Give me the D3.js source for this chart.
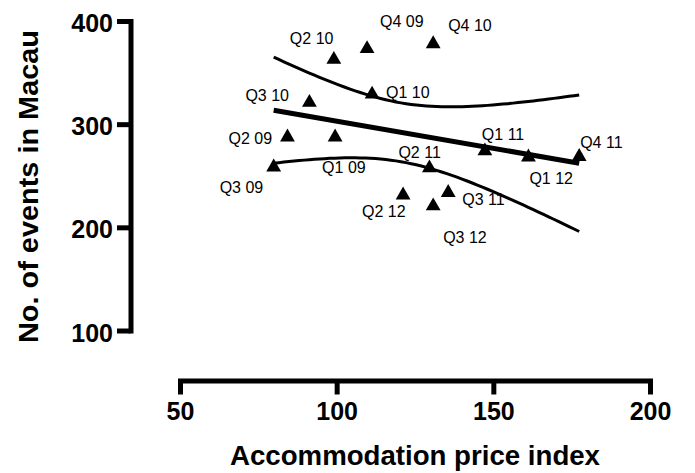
<!DOCTYPE html>
<html>
<head>
<meta charset="utf-8">
<script src="https://cdn.jsdelivr.net/npm/d3@7"></script>
<style>
  body { margin: 0; background: #fff; }
  text { font-family: Arial, "Liberation Sans", sans-serif; }
</style>
</head>
<body>
<div id="wrapper"></div>
<script>
// data
const quarters = ["Q1 09", "Q2 09", "Q3 09", "Q4 09", "Q1 10", "Q2 10", "Q3 10", "Q4 10",
  "Q1 11", "Q2 11", "Q3 11", "Q4 11", "Q1 12", "Q2 12", "Q3 12"];
const priceIndex = [99.5, 84.3, 79.9, 109.7, 111.3, 99.1, 91.3, 130.8,
  147.3, 129.6, 135.6, 177.4, 161.2, 121.2, 130.8];
const events = [289.5, 289.5, 260.4, 375.1, 331.0, 364.8, 323.1, 379.9,
  276.1, 259.5, 235.7, 270.6, 270.1, 233.3, 222.8];
const xTicks = [50, 100, 150, 200];
const yTicks = [100, 200, 300, 400];

// label placement, px from the marker (hand placed, like the original)
const labelOffsets = [[-13, 38], [-59, 9], [-54, 28], [13, -20], [14, 6], [-44, -13], [-64, 1], [15, -11],
  [-3, -9], [-31, -8], [14, 14], [1, -6], [1, 29], [-41, 24], [10, 39]];

const T_CRIT = 2.160; // t(0.975, df = 13)

function drawChart() {
  const dataset = quarters.map((q, i) => ({ label: q, x: priceIndex[i], y: events[i], off: labelOffsets[i] }));
  const xAccessor = (d) => d.x;
  const yAccessor = (d) => d.y;

  const dimensions = { width: 695, height: 473 };

  const svg = d3.select("#wrapper").append("svg")
    .attr("width", dimensions.width)
    .attr("height", dimensions.height);

  // scales
  const xScale = d3.scaleLinear().domain([50, 200]).range([180, 650]);
  const yScale = d3.scaleLinear().domain([100, 400]).range([330.5, 21]);

  // linear regression + 95% confidence band
  const n = dataset.length;
  const mx = d3.mean(dataset, xAccessor);
  const my = d3.mean(dataset, yAccessor);
  const sxx = d3.sum(dataset, (d) => (d.x - mx) ** 2);
  const sxy = d3.sum(dataset, (d) => (d.x - mx) * (d.y - my));
  const slope = sxy / sxx;
  const intercept = my - slope * mx;
  const sse = d3.sum(dataset, (d) => (d.y - (intercept + slope * d.x)) ** 2);
  const s = Math.sqrt(sse / (n - 2));

  const [x0, x1] = d3.extent(dataset, xAccessor);
  const xs = d3.range(0, 61).map((i) => x0 + (x1 - x0) * i / 60);
  const fit = (x) => intercept + slope * x;
  const half = (x) => T_CRIT * s * Math.sqrt(1 / n + (x - mx) ** 2 / sxx);

  const line = d3.line().x((d) => xScale(d[0])).y((d) => yScale(d[1]));

  const lines = svg.append("g").attr("fill", "none").attr("stroke", "#000");
  lines.append("path")
    .attr("d", line(xs.map((x) => [x, fit(x) + half(x)])))
    .attr("stroke-width", 3);
  lines.append("path")
    .attr("d", line(xs.map((x) => [x, fit(x) - half(x)])))
    .attr("stroke-width", 3);
  lines.append("path")
    .attr("d", line([[x0, fit(x0)], [x1, fit(x1)]]))
    .attr("stroke-width", 5);

  // points (triangle centred on its box)
  const tri = d3.symbol(d3.symbolTriangle, 95);
  const triH = 3 * Math.sqrt(95 / (Math.sqrt(3) * 3));
  const points = svg.append("g");
  points.selectAll("path")
    .data(dataset)
    .join("path")
    .attr("d", tri)
    .attr("fill", "#000")
    .attr("transform", (d) => `translate(${xScale(d.x)},${yScale(d.y) + triH / 6})`);

  points.selectAll("text")
    .data(dataset)
    .join("text")
    .attr("x", (d) => xScale(d.x) + d.off[0])
    .attr("y", (d) => yScale(d.y) + d.off[1])
    .attr("font-size", 16)
    .attr("fill", "#000")
    .text((d) => d.label);

  // axes
  const yAxis = svg.append("g")
    .attr("transform", "translate(130.5,0)")
    .call(d3.axisLeft(yScale).tickValues(yTicks).tickSize(13.5).tickSizeOuter(0).tickPadding(4));
  const xAxis = svg.append("g")
    .attr("transform", "translate(0,380.5)")
    .call(d3.axisBottom(xScale).tickValues(xTicks).tickSize(14).tickSizeOuter(0).tickPadding(7.5));

  [xAxis, yAxis].forEach((ax) => {
    ax.select(".domain").attr("stroke-width", 5).attr("stroke-linecap", "square");
    ax.selectAll(".tick line").attr("stroke-width", 5);
    ax.selectAll(".tick text")
      .attr("font-family", "Arial, 'Liberation Sans', sans-serif")
      .attr("font-size", 25)
      .attr("font-weight", "bold")
      .attr("fill", "#000");
  });
  yAxis.selectAll(".tick text").attr("dy", "0.42em");

  // axis titles
  svg.append("text")
    .attr("x", 415)
    .attr("y", 465)
    .attr("text-anchor", "middle")
    .attr("font-size", 27.5)
    .attr("font-weight", "bold")
    .attr("textLength", 370)
    .attr("lengthAdjust", "spacingAndGlyphs")
    .text("Accommodation price index");

  svg.append("text")
    .attr("transform", "translate(38,186.5) rotate(-90)")
    .attr("text-anchor", "middle")
    .attr("font-size", 28)
    .attr("font-weight", "bold")
    .attr("textLength", 313)
    .attr("lengthAdjust", "spacingAndGlyphs")
    .text("No. of events in Macau");
}
drawChart();
</script>
</body>
</html>
